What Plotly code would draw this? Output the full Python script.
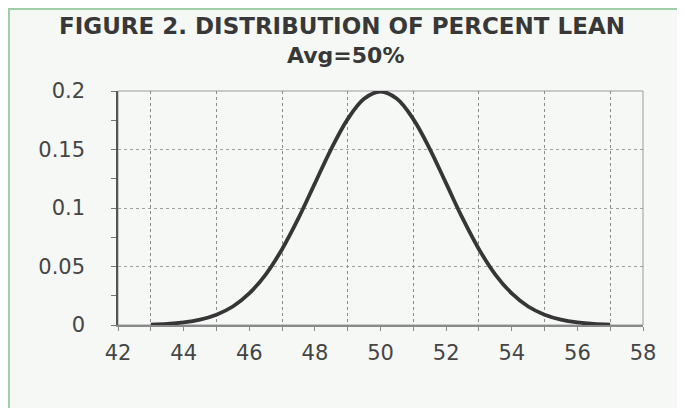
import plotly.graph_objects as go

# Data
lean_pct = [43, 43.5, 44, 44.5, 45, 45.5, 46, 46.5, 47, 47.5, 48, 48.5, 49, 49.5, 50,
            50.5, 51, 51.5, 52, 52.5, 53, 53.5, 54, 54.5, 55, 55.5, 56, 56.5, 57]
density = [0.0004, 0.0009, 0.0022, 0.0046, 0.0088, 0.0158, 0.027, 0.0431, 0.0648,
           0.0913, 0.121, 0.1506, 0.176, 0.1933, 0.1995,
           0.1933, 0.176, 0.1506, 0.121, 0.0913, 0.0648, 0.0431, 0.027, 0.0158,
           0.0088, 0.0046, 0.0022, 0.0009, 0.0004]

x_tick_vals = [42, 44, 46, 48, 50, 52, 54, 56, 58]
x_grid_vals = [43, 45, 47, 49, 51, 53, 55, 57]
y_tick_vals = [0, 0.05, 0.1, 0.15, 0.2]
y_tick_text = ["0", "0.05", "0.1", "0.15", "0.2"]
y_minor_vals = [0.025, 0.075, 0.125, 0.175]

title_line1 = "FIGURE 2. DISTRIBUTION OF PERCENT LEAN"
title_line2 = "Avg=50%"

bg = "#f6f8f6"
tick_font = dict(family="DejaVu Sans", size=21, color="#454545")

# figure geometry (page body adds an 8px offset)
W, H = 673, 400
L, R, T, B = 110, 38, 83, 83
PW, PH = W - L - R, H - T - B

fig = go.Figure()
fig.add_trace(go.Scatter(
    x=lean_pct, y=density, mode="lines",
    line=dict(color="#363636", width=3.8, shape="spline"),
    showlegend=False, hoverinfo="x+y", cliponaxis=False,
))

fig.update_layout(
    width=W, height=H,
    margin=dict(l=L, r=R, t=T, b=B),
    paper_bgcolor=bg, plot_bgcolor=bg,
    showlegend=False,
    annotations=[
        dict(text=title_line1, xref="paper", yref="paper", x=0.5, y=(H - B - 18) / PH,
             xanchor="center", yanchor="middle", showarrow=False,
             font=dict(family="DejaVu Sans", size=23, color="#383838", weight="bold"),
             xshift=(334 - (L + PW / 2))),
        dict(text=title_line2, xref="paper", yref="paper", x=0.5, y=(H - B - 47) / PH,
             xanchor="center", yanchor="middle", showarrow=False,
             font=dict(family="DejaVu Sans", size=22, color="#383838", weight="bold"),
             xshift=(337 - (L + PW / 2))),
    ],
    shapes=[
        dict(type="rect", xref="x domain", yref="y domain", x0=0, x1=1, y0=0, y1=1,
             line=dict(color="#9a9a9a", width=1), layer="below"),
        dict(type="rect", xref="paper", yref="paper",
             x0=(1 - L) / PW, x1=(W - 1 - L) / PW,
             y0=-0.6, y1=(H - B - 1) / PH,
             line=dict(color="#9fcfa8", width=2), layer="below"),
    ],
)

fig.update_xaxes(
    range=[42, 58], tickvals=x_tick_vals, ticktext=[str(v) for v in x_tick_vals],
    showgrid=False, zeroline=False,
    showline=True, linecolor="#8a8a8a", linewidth=2,
    ticks="outside", ticklen=4, tickcolor="#8a8a8a",
    tickfont=tick_font, ticklabelstandoff=4,
    minor=dict(tickvals=x_grid_vals, showgrid=True, gridcolor="#8c8c8c",
               griddash="dot", gridwidth=1, ticks="outside", ticklen=4,
               tickcolor="#8a8a8a"),
)
fig.update_yaxes(
    range=[0, 0.2], tickvals=y_tick_vals, ticktext=y_tick_text,
    showgrid=True, gridcolor="#a0a0a0", griddash="dot", gridwidth=1,
    zeroline=False,
    showline=True, linecolor="#555555", linewidth=1.5,
    ticks="outside", ticklen=5, tickcolor="#777777",
    tickfont=tick_font, ticklabelstandoff=22,
    minor=dict(tickvals=y_minor_vals, ticks="outside", ticklen=5,
               tickcolor="#777777", showgrid=False),
)

fig.write_html("out.html")
